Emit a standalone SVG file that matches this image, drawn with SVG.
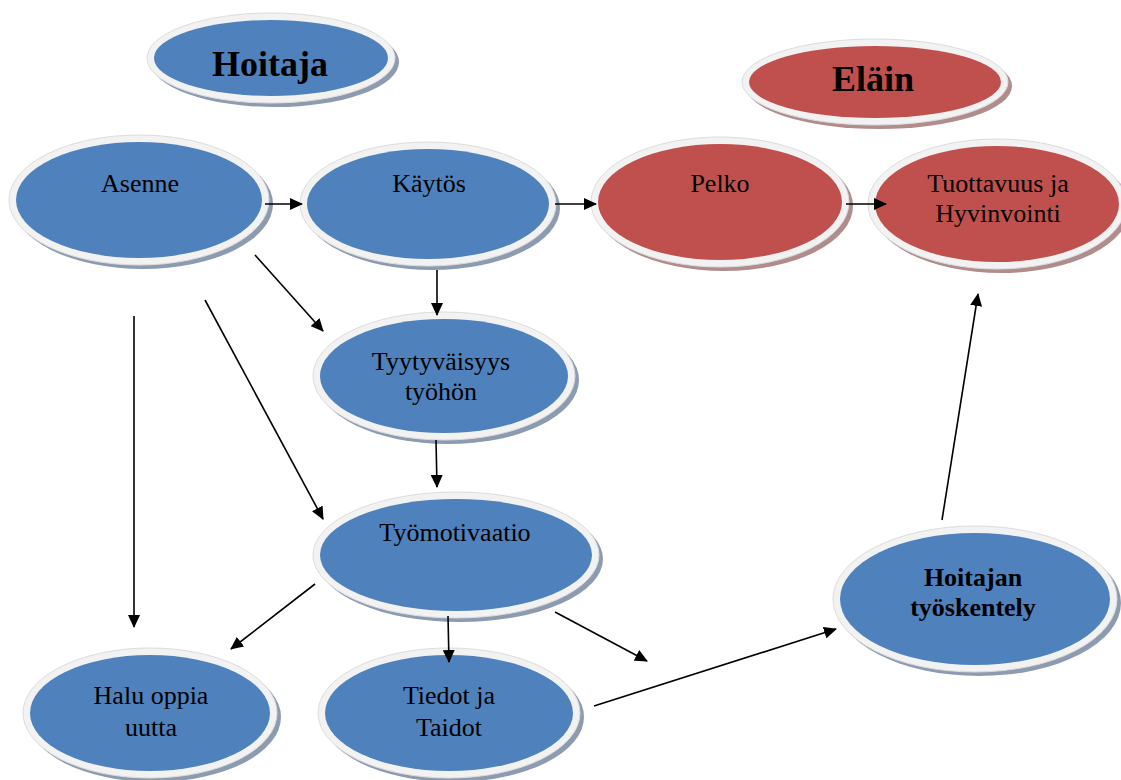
<svg xmlns="http://www.w3.org/2000/svg" width="1121" height="780" viewBox="0 0 1121 780">
<defs>
<style>
.shB{fill:#8d9bb0}
.shR{fill:#b08c8c}
.rim{fill:#f2f2f2;stroke:#dcdcdc;stroke-width:1}
.blue{fill:#4f81bd}
.red{fill:#c0504d}
text{font-family:"Liberation Serif","Times New Roman",serif;fill:#000;text-anchor:middle}
.t{font-size:26px}
.tb{font-size:26px;font-weight:bold}
.th{font-size:36px;font-weight:bold}
.c line{stroke:#000;stroke-width:1.6;marker-end:url(#ah)}
</style>
<marker id="ah" viewBox="0 0 13 12" refX="12" refY="6" markerWidth="13" markerHeight="12" markerUnits="userSpaceOnUse" orient="auto">
<path d="M0,0 L13,6 L0,12 z" fill="#000"/>
</marker>
</defs>
<rect width="1121" height="780" fill="#fff"/>

<g id="hoitaja">
<ellipse class="shB" cx="275" cy="62" rx="124" ry="45"/>
<ellipse class="rim" cx="271" cy="58" rx="124" ry="45"/>
<ellipse class="blue" cx="271" cy="58" rx="117" ry="38"/>
<text class="th" x="270" y="76">Hoitaja</text>
</g>
<g id="elain">
<ellipse class="shR" cx="879" cy="86" rx="133" ry="43"/>
<ellipse class="rim" cx="875" cy="82" rx="133" ry="43"/>
<ellipse class="red" cx="875" cy="82" rx="126" ry="36"/>
<text class="th" x="873" y="91">Eläin</text>
</g>
<g id="asenne">
<ellipse class="shB" cx="143" cy="204" rx="130" ry="65"/>
<ellipse class="rim" cx="139" cy="200" rx="130" ry="65"/>
<ellipse class="blue" cx="139" cy="200" rx="123" ry="58"/>
<text class="t" x="140" y="192">Asenne</text>
</g>
<g id="kaytos">
<ellipse class="shB" cx="432" cy="208" rx="128" ry="62"/>
<ellipse class="rim" cx="428" cy="204" rx="128" ry="62"/>
<ellipse class="blue" cx="428" cy="204" rx="121" ry="55"/>
<text class="t" x="429" y="192">Käytös</text>
</g>
<g id="pelko">
<ellipse class="shR" cx="724" cy="206" rx="129" ry="65"/>
<ellipse class="rim" cx="720" cy="202" rx="129" ry="65"/>
<ellipse class="red" cx="720" cy="202" rx="122" ry="58"/>
<text class="t" x="720" y="192">Pelko</text>
</g>
<g id="tuottavuus">
<ellipse class="shR" cx="1001" cy="208" rx="129" ry="65"/>
<ellipse class="rim" cx="997" cy="204" rx="129" ry="65"/>
<ellipse class="red" cx="997" cy="204" rx="122" ry="58"/>
<text class="t" x="998" y="192">Tuottavuus ja</text>
<text class="t" x="998" y="222">Hyvinvointi</text>
</g>
<g id="tyytyvaisyys">
<ellipse class="shB" cx="448" cy="380" rx="131" ry="64"/>
<ellipse class="rim" cx="444" cy="376" rx="131" ry="64"/>
<ellipse class="blue" cx="444" cy="376" rx="124" ry="57"/>
<text class="t" x="441" y="370">Tyytyväisyys</text>
<text class="t" x="441" y="400">työhön</text>
</g>
<g id="tyomotivaatio">
<ellipse class="shB" cx="460" cy="559" rx="143" ry="63"/>
<ellipse class="rim" cx="456" cy="555" rx="143" ry="63"/>
<ellipse class="blue" cx="456" cy="555" rx="136" ry="56"/>
<text class="t" x="455" y="541">Työmotivaatio</text>
</g>
<g id="hoitajan">
<ellipse class="shB" cx="979" cy="603" rx="142" ry="73"/>
<ellipse class="rim" cx="975" cy="599" rx="142" ry="73"/>
<ellipse class="blue" cx="975" cy="599" rx="135" ry="66"/>
<text class="tb" x="973" y="586">Hoitajan</text>
<text class="tb" x="973" y="616">työskentely</text>
</g>
<g id="halu">
<ellipse class="shB" cx="154" cy="717" rx="127" ry="65"/>
<ellipse class="rim" cx="150" cy="713" rx="127" ry="65"/>
<ellipse class="blue" cx="150" cy="713" rx="120" ry="58"/>
<text class="t" x="151" y="704">Halu oppia</text>
<text class="t" x="151" y="736">uutta</text>
</g>
<g id="tiedot">
<ellipse class="shB" cx="453" cy="717" rx="131" ry="65"/>
<ellipse class="rim" cx="449" cy="713" rx="131" ry="65"/>
<ellipse class="blue" cx="449" cy="713" rx="124" ry="58"/>
<text class="t" x="449" y="704">Tiedot ja</text>
<text class="t" x="449" y="736">Taidot</text>
</g>

<g id="connectors" class="c">
<line x1="265" y1="204" x2="302" y2="204"/>
<line x1="555" y1="204" x2="596" y2="204"/>
<line x1="846" y1="204" x2="886" y2="204"/>
<line x1="437" y1="270" x2="437" y2="315"/>
<line x1="255" y1="255" x2="323" y2="331"/>
<line x1="134" y1="316" x2="134" y2="627"/>
<line x1="205" y1="300" x2="323" y2="519"/>
<line x1="436" y1="440" x2="437" y2="487"/>
<line x1="315" y1="584" x2="231" y2="649"/>
<line x1="448" y1="616" x2="449" y2="662"/>
<line x1="555" y1="612" x2="647" y2="661"/>
<line x1="594" y1="706" x2="836" y2="629"/>
<line x1="942" y1="520" x2="978" y2="294"/>
</g>
</svg>
